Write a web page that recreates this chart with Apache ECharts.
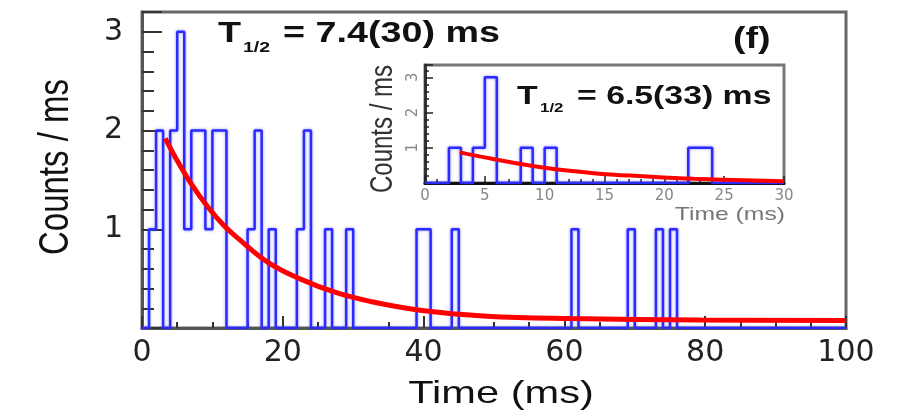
<!DOCTYPE html>
<html>
<head>
<meta charset="utf-8">
<script src="https://cdn.jsdelivr.net/npm/echarts@6/dist/echarts.min.js"></script>
<style>
html, body { margin: 0; padding: 0; background: #fff; }
#chart { width: 898px; height: 412px; }
</style>
</head>
<body>
<div id="chart"></div>
<script>
// main histogram, 1 ms bins from 0 to 100 ms (only the non-empty bins)
const mainBins   = [1, 2, 4, 5, 6, 7, 8, 9, 10, 11, 15, 16, 18, 22, 23, 26, 29, 39, 40, 44, 61, 69, 73, 75];
const mainCounts = [1, 2, 2, 3, 1, 2, 2, 1, 2,  2,  1,  2,  1,  1,  2,  1,  1,  1,  1,  1,  1,  1,  1,  1];
// red fit curve of the main plot
const mainFitT = [3.3, 4.8, 6.9, 9.3, 11.6, 13.6, 18, 22.7, 27.5, 32.4, 39.5, 49, 60.8, 79.3, 100];
const mainFitV = [1.92, 1.72, 1.47, 1.23, 1.04, 0.91, 0.66, 0.49, 0.36, 0.27, 0.18, 0.12, 0.095, 0.08, 0.075];
const mainXTicks = [0, 20, 40, 60, 80, 100];

// inset histogram, 1 ms bins from 0 to 30 ms
const insetBins   = [2, 4, 5, 8, 10, 22, 23];
const insetCounts = [1, 1, 3, 1, 1, 1, 1];
const insetFitT = [2.9, 5.7, 10, 14.1, 18.3, 22.5, 30];
const insetFitV = [0.87, 0.68, 0.43, 0.28, 0.19, 0.12, 0.05];

const BLUE = '#2b2bff';
const RED = '#ff0000';

// turn bin list into step points
function histData(bins, counts, nBins) {
    let full = new Array(nBins).fill(0);
    bins.forEach((b, i) => { full[b] = counts[i]; });
    let data = full.map((c, i) => [i, c]);
    data.push([nBins, full[nBins - 1]]);
    return data;
}

function fitData(ts, vs) {
    return ts.map((t, i) => [t, vs[i]]);
}

function txt(x, y, text, size, opt) {
    opt = opt || {};
    return {
        type: 'text', x: x, y: y, z: 100,
        rotation: opt.rotation || 0,
        scaleX: opt.scaleX || 1, scaleY: opt.scaleY || 1,
        style: {
            text: text,
            fontSize: size,
            fontWeight: opt.bold ? 'bold' : 'normal',
            fontFamily: '"Liberation Sans", Arial, sans-serif',
            fill: opt.color || '#111',
            align: opt.align || 'left',
            verticalAlign: 'middle'
        }
    };
}

const intLabel = v => (Number.isInteger(v) && v > 0) ? String(v) : '';

let chart = echarts.init(document.getElementById('chart'));

chart.setOption({
    animation: false,
    backgroundColor: '#fff',
    grid: [
        { left: 142, top: 12, width: 704, height: 316, show: true, borderColor: '#666', borderWidth: 3, backgroundColor: '#fff' },
        { left: 425, top: 65, width: 359, height: 118, show: true, borderColor: '#777', borderWidth: 3, backgroundColor: '#fff', z: 5 }
    ],
    xAxis: [
        {
            gridIndex: 0, type: 'value', min: 0, max: 100, interval: 20,
            axisLine: { lineStyle: { color: '#555', width: 3 } },
            axisTick: { inside: true, length: 12, lineStyle: { color: '#333', width: 2 } },
            minorTick: { show: true, splitNumber: 4, length: 6, lineStyle: { color: '#333', width: 2 } },
            splitLine: { show: false },
            axisLabel: {
                margin: 10, fontSize: 30, color: '#222', fontFamily: '"DejaVu Sans"',
                formatter: v => mainXTicks.includes(v) ? String(v) : ''
            }
        },
        {
            gridIndex: 1, type: 'value', min: 0, max: 30, interval: 5, z: 6,
            axisLine: { lineStyle: { color: '#111', width: 3 } },
            axisTick: { inside: true, length: 7, lineStyle: { color: '#222', width: 1.5 } },
            minorTick: { show: true, splitNumber: 5, length: 4, lineStyle: { color: '#222', width: 1.5 } },
            splitLine: { show: false },
            axisLabel: { margin: 6, fontSize: 15, color: '#888', fontFamily: '"DejaVu Sans"' }
        }
    ],
    yAxis: [
        {
            gridIndex: 0, type: 'value', min: 0, max: 3.2, interval: 1,
            axisLine: { lineStyle: { color: '#555', width: 3 } },
            axisTick: { inside: true, length: 20, lineStyle: { color: '#333', width: 2 } },
            minorTick: { show: true, splitNumber: 5, length: 12, lineStyle: { color: '#333', width: 2 } },
            splitLine: { show: false },
            axisLabel: { margin: 19, fontSize: 30, color: '#222', fontFamily: '"DejaVu Sans"', formatter: intLabel }
        },
        {
            gridIndex: 1, type: 'value', min: 0, max: 3.35, interval: 1, z: 6,
            axisLine: { lineStyle: { color: '#333', width: 3 } },
            axisTick: { inside: true, length: 8, lineStyle: { color: '#222', width: 1.5 } },
            minorTick: { show: true, splitNumber: 5, length: 4, lineStyle: { color: '#222', width: 1.5 } },
            splitLine: { show: false },
            axisLabel: { margin: 4, fontSize: 15, rotate: 90, color: '#888', fontFamily: '"DejaVu Sans"', formatter: intLabel }
        }
    ],
    series: [
        {
            type: 'line', xAxisIndex: 0, yAxisIndex: 0, step: 'end', symbol: 'none',
            data: histData(mainBins, mainCounts, 100),
            lineStyle: { color: BLUE, width: 2.5, shadowBlur: 3, shadowColor: 'rgba(60,60,255,0.55)' },
            z: 2
        },
        {
            type: 'line', xAxisIndex: 0, yAxisIndex: 0, symbol: 'none', smooth: 0.4,
            data: fitData(mainFitT, mainFitV),
            lineStyle: { color: RED, width: 5 },
            z: 3
        },
        {
            type: 'line', xAxisIndex: 1, yAxisIndex: 1, step: 'end', symbol: 'none',
            data: histData(insetBins, insetCounts, 30),
            lineStyle: { color: BLUE, width: 2.5, shadowBlur: 3, shadowColor: 'rgba(60,60,255,0.55)' },
            z: 7
        },
        {
            type: 'line', xAxisIndex: 1, yAxisIndex: 1, symbol: 'none', smooth: 0.4,
            data: fitData(insetFitT, insetFitV),
            lineStyle: { color: RED, width: 4 },
            z: 8
        }
    ],
    graphic: [
        // main plot texts
        txt(218, 34, 'T', 29, { bold: true, scaleX: 1.3 }),
        txt(243, 48, '1/2', 15, { bold: true, scaleX: 1.3 }),
        txt(283, 34, '= 7.4(30) ms', 29, { bold: true, scaleX: 1.3 }),
        txt(733, 40, '(f)', 29, { bold: true, scaleX: 1.3 }),
        txt(501, 394, 'Time (ms)', 32, { align: 'center', scaleX: 1.3 }),
        txt(56, 167, 'Counts / ms', 33, { align: 'center', rotation: Math.PI / 2, scaleY: 1.3 }),
        // inset texts
        txt(517, 97, 'T', 26, { bold: true, scaleX: 1.3 }),
        txt(540, 108, '1/2', 13, { bold: true, scaleX: 1.3 }),
        txt(577, 97, '= 6.5(33) ms', 26, { bold: true, scaleX: 1.3 }),
        txt(785, 215, 'Time (ms)', 19, { align: 'right', scaleX: 1.3, color: '#777' }),
        txt(383, 129, 'Counts / ms', 24, { align: 'center', rotation: Math.PI / 2, scaleY: 1.3, color: '#333' })
    ]
});
</script>
</body>
</html>
